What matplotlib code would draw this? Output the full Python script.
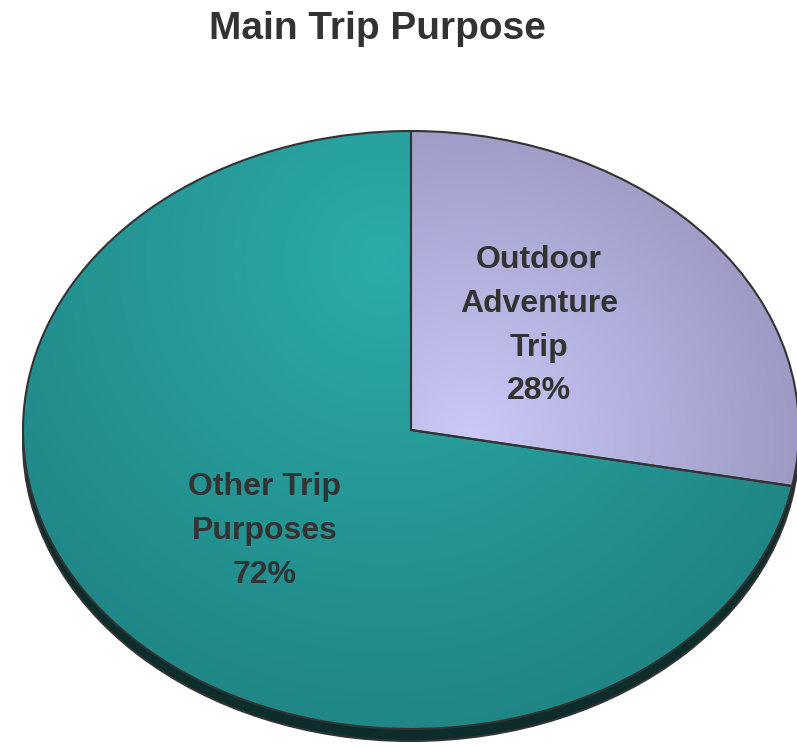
import numpy as np
import matplotlib.pyplot as plt
from matplotlib.colors import LinearSegmentedColormap
from matplotlib.patches import Ellipse
from matplotlib.transforms import Affine2D

# data
names = ["Outdoor\nAdventure\nTrip", "Other Trip\nPurposes"]
shares = [28, 72]
title = "Main Trip Purpose"

# gradient stops (light -> dark) per slice
grad_colors = [["#cac9f7", "#9896c0"], ["#2baba9", "#1f8282"]]
grad_centers = [(470, 440), (385, 260)]
grad_radius = [360, 520]

W, H = 797, 746
cx, cy, rx, ry, depth = 411, 430, 388, 299, 12

plt.rcParams["font.family"] = ["Liberation Sans", "DejaVu Sans"]
fig = plt.figure(figsize=(W / 100, H / 100), dpi=100)
ax = fig.add_axes([0, 0, 1, 1])

labels = [f"{n}\n{s}%" for n, s in zip(names, shares)]
wedges, texts = ax.pie(shares, labels=labels, startangle=90, counterclock=False,
                       labeldistance=0.5,
                       wedgeprops=dict(edgecolor="#333333", linewidth=1.5),
                       textprops=dict(fontsize=23, fontweight="bold", color="#333333",
                                      ha="center", va="center", linespacing=1.6))
ax.set_aspect("auto")
ax.set_xlim(0, W)
ax.set_ylim(H, 0)
ax.axis("off")

tr = Affine2D().scale(rx, -ry).translate(cx, cy) + ax.transData

# pie side (depth)
side = Ellipse((cx, cy + depth), 2 * rx, 2 * ry, facecolor="#0d2c2c",
               edgecolor="#333333", linewidth=1.5, zorder=0)
ax.add_patch(side)

yy, xx = np.mgrid[0:H, 0:W]
for w, t, cols, (gx, gy), gr in zip(wedges, texts, grad_colors, grad_centers, grad_radius):
    w.set_transform(tr)
    w.set_facecolor("none")
    w.set_zorder(3)
    t.set_transform(tr)
    t.set_zorder(4)
    d = np.clip(np.hypot(xx - gx, yy - gy) / gr, 0, 1)
    cmap = LinearSegmentedColormap.from_list("g", cols)
    im = ax.imshow(d, cmap=cmap, extent=(0, W, H, 0), vmin=0, vmax=1,
                   interpolation="bilinear", zorder=2, aspect="auto")
    im.set_clip_path(w)

# nudge the labels as in the reference
x0, y0 = texts[0].get_position()
texts[0].set_position((x0 - 0.055, y0 + 0.03))
x1, y1 = texts[1].get_position()
texts[1].set_position((x1 + 0.008, y1 - 0.02))

fig.text(377 / W, 1 - 29 / H, title, ha="center", va="center", fontsize=28,
         fontweight="bold", color="#333333")

fig.savefig("out.png", dpi=100)
